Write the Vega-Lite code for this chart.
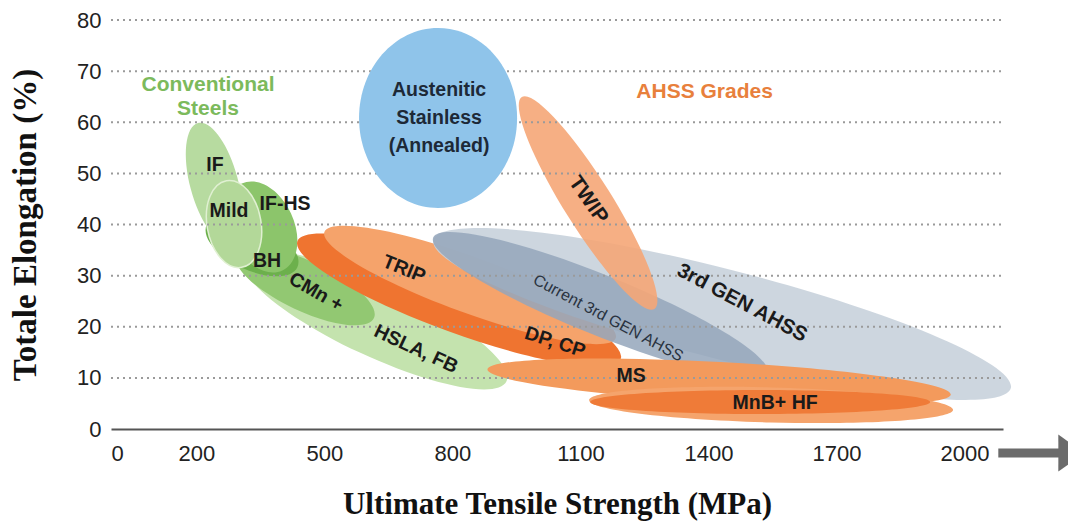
{
  "$schema": "https://vega.github.io/schema/vega-lite/v6.json",
  "width": 892,
  "height": 409,
  "autosize": {"type": "none"},
  "padding": {"left": 111, "top": 20, "right": 65, "bottom": 99},
  "background": "white",
  "config": {"view": {"stroke": null}, "font": "Liberation Sans"},
  "datasets": {
    "regions": [
      {"grade": "HSLA, FB", "k": 1, "uts": 926.7, "el": 9.33},
      {"grade": "HSLA, FB", "k": 2, "uts": 583.1, "el": 14.94},
      {"grade": "HSLA, FB", "k": 3, "uts": 310.8, "el": 33.31},
      {"grade": "HSLA, FB", "k": 4, "uts": 654.4, "el": 27.7},
      {"grade": "CMn +", "k": 1, "uts": 616.1, "el": 21.69},
      {"grade": "CMn +", "k": 2, "uts": 429.9, "el": 23.54},
      {"grade": "CMn +", "k": 3, "uts": 293.2, "el": 34.25},
      {"grade": "CMn +", "k": 4, "uts": 479.4, "el": 32.4},
      {"grade": "IF", "k": 1, "uts": 203.8, "el": 59.83},
      {"grade": "IF", "k": 2, "uts": 295.7, "el": 49.33},
      {"grade": "IF", "k": 3, "uts": 279.0, "el": 36.4},
      {"grade": "IF", "k": 4, "uts": 187.1, "el": 46.9},
      {"grade": "BH", "k": 1, "uts": 436.7, "el": 31.66},
      {"grade": "BH", "k": 2, "uts": 306.7, "el": 31.54},
      {"grade": "BH", "k": 3, "uts": 224.2, "el": 39.93},
      {"grade": "BH", "k": 4, "uts": 354.2, "el": 40.05},
      {"grade": "IF-HS", "k": 1, "uts": 306.4, "el": 48.02},
      {"grade": "IF-HS", "k": 2, "uts": 421.8, "el": 42.16},
      {"grade": "IF-HS", "k": 3, "uts": 401.4, "el": 31.0},
      {"grade": "IF-HS", "k": 4, "uts": 285.9, "el": 36.87},
      {"grade": "Mild", "k": 1, "uts": 270.4, "el": 48.57},
      {"grade": "Mild", "k": 2, "uts": 350.6, "el": 41.02},
      {"grade": "Mild", "k": 3, "uts": 306.2, "el": 31.62},
      {"grade": "Mild", "k": 4, "uts": 225.9, "el": 39.18},
      {"grade": "Austenitic Stainless", "k": 1, "uts": 766.4, "el": 78.44},
      {"grade": "Austenitic Stainless", "k": 2, "uts": 951.5, "el": 60.83},
      {"grade": "Austenitic Stainless", "k": 3, "uts": 766.4, "el": 43.23},
      {"grade": "Austenitic Stainless", "k": 4, "uts": 581.2, "el": 60.83},
      {"grade": "DP, CP", "k": 1, "uts": 1194.4, "el": 13.73},
      {"grade": "DP, CP", "k": 2, "uts": 789.1, "el": 19.17},
      {"grade": "DP, CP", "k": 3, "uts": 436.8, "el": 36.74},
      {"grade": "DP, CP", "k": 4, "uts": 842.0, "el": 31.3},
      {"grade": "TRIP", "k": 1, "uts": 1182.7, "el": 17.8},
      {"grade": "TRIP", "k": 2, "uts": 818.9, "el": 23.02},
      {"grade": "TRIP", "k": 3, "uts": 500.0, "el": 38.54},
      {"grade": "TRIP", "k": 4, "uts": 863.8, "el": 33.31},
      {"grade": "3rd GEN AHSS", "k": 1, "uts": 2108.4, "el": 8.0},
      {"grade": "3rd GEN AHSS", "k": 2, "uts": 1405.7, "el": 13.97},
      {"grade": "3rd GEN AHSS", "k": 3, "uts": 755.5, "el": 36.99},
      {"grade": "3rd GEN AHSS", "k": 4, "uts": 1458.2, "el": 31.02},
      {"grade": "Current 3rd GEN AHSS", "k": 1, "uts": 1537.2, "el": 11.07},
      {"grade": "Current 3rd GEN AHSS", "k": 2, "uts": 1119.7, "el": 18.81},
      {"grade": "Current 3rd GEN AHSS", "k": 3, "uts": 754.9, "el": 37.44},
      {"grade": "Current 3rd GEN AHSS", "k": 4, "uts": 1172.3, "el": 29.7},
      {"grade": "TWIP", "k": 1, "uts": 962.6, "el": 64.94},
      {"grade": "TWIP", "k": 2, "uts": 1165.6, "el": 46.69},
      {"grade": "TWIP", "k": 3, "uts": 1273.1, "el": 23.47},
      {"grade": "TWIP", "k": 4, "uts": 1070.2, "el": 41.72},
      {"grade": "MS", "k": 1, "uts": 1967.8, "el": 6.74},
      {"grade": "MS", "k": 2, "uts": 1422.4, "el": 5.29},
      {"grade": "MS", "k": 3, "uts": 882.0, "el": 11.65},
      {"grade": "MS", "k": 4, "uts": 1427.4, "el": 13.1},
      {"grade": "MnB+ HF outer", "k": 1, "uts": 1973.1, "el": 3.76},
      {"grade": "MnB+ HF outer", "k": 2, "uts": 1545.7, "el": 1.28},
      {"grade": "MnB+ HF outer", "k": 3, "uts": 1120.4, "el": 5.63},
      {"grade": "MnB+ HF outer", "k": 4, "uts": 1547.8, "el": 8.12},
      {"grade": "MnB+ HF core", "k": 1, "uts": 1919.4, "el": 5.28},
      {"grade": "MnB+ HF core", "k": 2, "uts": 1521.0, "el": 2.93},
      {"grade": "MnB+ HF core", "k": 3, "uts": 1122.6, "el": 5.28},
      {"grade": "MnB+ HF core", "k": 4, "uts": 1521.0, "el": 7.63}
    ],
    "gridlines": [
      {"el": 10, "uts": 0, "uts_end": 2090},
      {"el": 20, "uts": 0, "uts_end": 2090},
      {"el": 30, "uts": 0, "uts_end": 2090},
      {"el": 40, "uts": 0, "uts_end": 2090},
      {"el": 50, "uts": 0, "uts_end": 2090},
      {"el": 60, "uts": 0, "uts_end": 2090},
      {"el": 70, "uts": 0, "uts_end": 2090},
      {"el": 80, "uts": 0, "uts_end": 2090}
    ],
    "labels": [
      {"name": "IF", "uts": 243.7, "el": 51.6},
      {"name": "Mild", "uts": 276.5, "el": 42.6},
      {"name": "IF-HS", "uts": 407.8, "el": 44.0},
      {"name": "BH", "uts": 365.6, "el": 32.9},
      {"name": "CMn +", "uts": 480.4, "el": 26.8},
      {"name": "HSLA, FB", "uts": 714.8, "el": 15.65},
      {"name": "TRIP", "uts": 686.7, "el": 31.3},
      {"name": "DP, CP", "uts": 1040.6, "el": 17.0},
      {"name": "MS", "uts": 1218.7, "el": 10.37},
      {"name": "MnB+ HF", "uts": 1556.1, "el": 5.09},
      {"name": "3rd GEN AHSS", "uts": 1478.8, "el": 24.65},
      {"name": "TWIP", "uts": 1117.9, "el": 44.8}
    ],
    "current": [
      {"name": "Current 3rd GEN AHSS", "uts": 1164.8, "el": 21.71}
    ],
    "stainless": [
      {"name": "Austenitic\nStainless\n(Annealed)", "uts": 768.7, "el": 66.31}
    ],
    "groups": [
      {"name": "Conventional\nSteels", "uts": 227.3, "el": 67.29},
      {"name": "AHSS Grades", "uts": 1390.9, "el": 65.82}
    ],
    "arrow": [
      {"uts": 2079, "uts_end": 2225, "el": -4.7}
    ],
    "arrowhead": [
      {"uts": 2250, "el": -4.7}
    ]
  },
  "encoding": {
    "x": {
      "field": "uts",
      "type": "quantitative",
      "title": "Ultimate Tensile Strength (MPa)",
      "scale": {"domain": [0, 2090], "nice": false, "zero": false},
      "axis": {
        "values": [0, 200, 500, 800, 1100, 1400, 1700, 2000],
        "format": "d",
        "grid": false,
        "ticks": false,
        "domainColor": "#555555",
        "domainWidth": 2,
        "labelFont": "Liberation Sans",
        "labelFontSize": 22,
        "labelColor": "#222222",
        "labelPadding": 14,
        "titleFont": "Liberation Serif",
        "titleFontSize": 31,
        "titleFontWeight": "bold",
        "titleColor": "#111111",
        "titlePadding": 25
      }
    },
    "y": {
      "field": "el",
      "type": "quantitative",
      "title": "Totale Elongation (%)",
      "scale": {"domain": [0, 80], "nice": false},
      "axis": {
        "values": [0, 10, 20, 30, 40, 50, 60, 70, 80],
        "grid": false,
        "domain": false,
        "ticks": false,
        "labelFont": "Liberation Sans",
        "labelFontSize": 22,
        "labelColor": "#222222",
        "labelPadding": 10,
        "titleFont": "Liberation Serif",
        "titleFontSize": 33,
        "titleFontWeight": "bold",
        "titleColor": "#111111",
        "titlePadding": 34
      }
    }
  },
  "layer": [
    {
      "data": {"name": "regions"},
      "transform": [{"filter": "datum.grade !== 'Austenitic Stainless'"}],
      "mark": {"type": "line", "interpolate": "cardinal-closed", "tension": -0.657, "filled": true, "strokeWidth": 0},
      "encoding": {
        "color": {
          "field": "grade",
          "type": "nominal",
          "legend": null,
          "scale": {
            "domain": ["HSLA, FB", "CMn +", "IF", "BH", "IF-HS", "Mild", "Austenitic Stainless", "DP, CP", "TRIP", "3rd GEN AHSS", "Current 3rd GEN AHSS", "TWIP", "MS", "MnB+ HF outer", "MnB+ HF core"],
            "range": ["#c4e3ae", "#92c872", "#b7dba0", "#6cb04c", "#8cc56b", "#b3d899", "#8fc4ea", "#ef7430", "#f5a36b", "#c8d1dc", "#94a6bb", "#f5a677", "#f39a5c", "#f5a46c", "#ef7b38"]
          }
        },
        "fillOpacity": {
          "condition": [
            {"test": "datum.grade === 'Current 3rd GEN AHSS'", "value": 0.85},
            {"test": "datum.grade === '3rd GEN AHSS'", "value": 0.9},
            {"test": "datum.grade === 'TWIP'", "value": 0.9}
          ],
          "value": 1
        },
        "order": {"field": "k", "type": "quantitative"}
      }
    },
    {
      "data": {"name": "regions"},
      "transform": [{"filter": "datum.grade === 'Mild'"}],
      "mark": {"type": "line", "interpolate": "cardinal-closed", "tension": -0.657, "stroke": "#e0f0d2", "strokeWidth": 1.5},
      "encoding": {"order": {"field": "k", "type": "quantitative"}}
    },
    {
      "data": {"name": "gridlines"},
      "mark": {"type": "rule", "color": "#9a9a9a", "strokeWidth": 2, "strokeDash": [2, 4]},
      "encoding": {"x2": {"field": "uts_end"}}
    },
    {
      "data": {"name": "regions"},
      "transform": [{"filter": "datum.grade === 'Austenitic Stainless'"}],
      "mark": {"type": "line", "interpolate": "cardinal-closed", "tension": -0.657, "filled": true, "strokeWidth": 0},
      "encoding": {
        "color": {"field": "grade", "type": "nominal", "legend": null},
        "order": {"field": "k", "type": "quantitative"}
      }
    },
    {
      "data": {"name": "arrow"},
      "mark": {"type": "rule", "color": "#6b6b6b", "strokeWidth": 9},
      "encoding": {"x2": {"field": "uts_end"}}
    },
    {
      "data": {"name": "arrowhead"},
      "mark": {"type": "point", "shape": "M -0.7 -1 L 0.7 0 L -0.7 1 Z", "size": 1369, "filled": true, "color": "#6b6b6b", "opacity": 1}
    },
    {
      "data": {"name": "labels"},
      "mark": {"type": "text", "font": "Liberation Sans", "fontWeight": "bold", "color": "#1a1a1a", "align": "center", "baseline": "middle"},
      "encoding": {
        "text": {"field": "name"},
        "angle": {
          "condition": [
            {"test": "datum.name === 'CMn +'", "value": 30},
            {"test": "datum.name === 'HSLA, FB'", "value": 25},
            {"test": "datum.name === 'TRIP'", "value": 22},
            {"test": "datum.name === 'DP, CP'", "value": 18},
            {"test": "datum.name === '3rd GEN AHSS'", "value": 28},
            {"test": "datum.name === 'TWIP'", "value": 55}
          ],
          "value": 0
        },
        "size": {
          "condition": [
            {"test": "datum.name === '3rd GEN AHSS'", "value": 20.5},
            {"test": "datum.name === 'TWIP'", "value": 21}
          ],
          "value": 19.5
        }
      }
    },
    {
      "data": {"name": "current"},
      "mark": {"type": "text", "font": "Liberation Sans", "fontSize": 16, "color": "#2a3340", "angle": 28, "align": "center", "baseline": "middle"},
      "encoding": {"text": {"field": "name"}}
    },
    {
      "data": {"name": "stainless"},
      "mark": {"type": "text", "font": "Liberation Sans", "fontWeight": "bold", "fontSize": 19.5, "lineHeight": 28, "lineBreak": "\n", "color": "#1d2937", "align": "center", "baseline": "middle"},
      "encoding": {"text": {"field": "name"}}
    },
    {
      "data": {"name": "groups"},
      "mark": {"type": "text", "font": "Liberation Sans", "fontWeight": "bold", "fontSize": 21, "lineHeight": 24, "lineBreak": "\n", "align": "center", "baseline": "middle"},
      "encoding": {
        "text": {"field": "name"},
        "color": {
          "condition": {"test": "datum.name === 'AHSS Grades'", "value": "#e8803c"},
          "value": "#7cba5c"
        }
      }
    }
  ]
}
